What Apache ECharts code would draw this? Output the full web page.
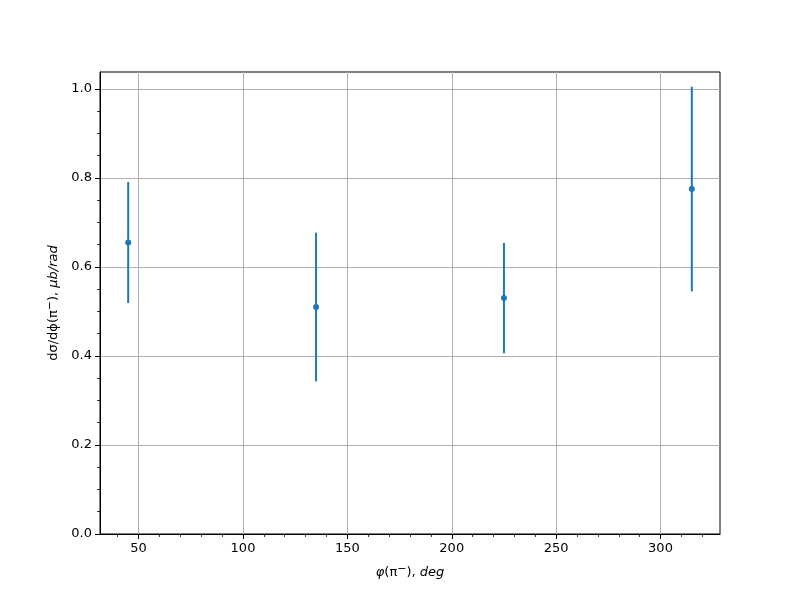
<!DOCTYPE html>
<html><head><meta charset="utf-8">
<script src="https://cdn.jsdelivr.net/npm/echarts@6/dist/echarts.min.js"></script>
<style>html,body{margin:0;padding:0;background:#fff}#c{width:800px;height:600px}</style>
</head><body><div id="c"></div>
<script>
const phi = [45, 135, 225, 315];
const sigma = [0.655, 0.510, 0.530, 0.775];
const sigmaErr = [0.136, 0.167, 0.124, 0.230];
const xTicks = [50, 100, 150, 200, 250, 300];
const xMinorTicks = [40, 60, 70, 80, 90, 110, 120, 130, 140, 160, 170, 180, 190, 210, 220, 230, 240, 260, 270, 280, 290, 310, 320];
const yTicks = [0, 0.2, 0.4, 0.6, 0.8, 1.0];
const yMinorTicks = [0.05, 0.1, 0.15, 0.25, 0.3, 0.35, 0.45, 0.5, 0.55, 0.65, 0.7, 0.75, 0.85, 0.9, 0.95];

const FONT = 'DejaVu Sans';
const C = '#1f77b4';
const chart = echarts.init(document.getElementById('c'));
const errData = phi.map((x, i) => [x, sigma[i] - sigmaErr[i], sigma[i] + sigmaErr[i]]);
const ptData = phi.map((x, i) => [x, sigma[i]]);
const rich = {i: {fontStyle: 'italic', fontFamily: FONT, fontSize: 13, color: '#000'}, s: {fontSize: 11, verticalAlign: 'top', padding: [0, 0, 7, 0], fontFamily: FONT, color: '#000'}};

chart.setOption({
  animation: false,
  backgroundColor: '#fff',
  grid: {left: 100, right: 80, top: 72, bottom: 66, show: true, borderColor: '#000', borderWidth: 1, backgroundColor: 'transparent'},
  xAxis: [{
    type: 'value', min: 31.5, max: 328.5, interval: 50,
    axisLine: {show: true, lineStyle: {color: '#000', width: 1}},
    axisTick: {show: true, inside: false, length: 5, customValues: xTicks, lineStyle: {color: '#000', width: 1}},
    axisLabel: {customValues: xTicks, color: '#000', fontFamily: FONT, fontSize: 13, margin: 8},
    splitLine: {show: true, lineStyle: {color: '#b0b0b0', width: 1}},
    name: '{i|φ}(π{s|−}), {i|deg}', nameLocation: 'middle', nameGap: 30,
    nameTextStyle: {color: '#000', fontFamily: FONT, fontSize: 13, rich: rich}
  }, {
    type: 'value', min: 31.5, max: 328.5, position: 'bottom', gridIndex: 0,
    axisLine: {show: false},
    axisTick: {show: true, inside: false, length: 3, customValues: xMinorTicks, lineStyle: {color: '#000', width: 0.8}},
    axisLabel: {show: false}, splitLine: {show: false}
  }],
  yAxis: [{
    type: 'value', min: 0, max: 1.038, interval: 0.2,
    axisLine: {show: true, lineStyle: {color: '#000', width: 1}},
    axisTick: {show: true, inside: false, length: 5, customValues: yTicks, lineStyle: {color: '#000', width: 1}},
    axisLabel: {customValues: yTicks, color: '#000', fontFamily: FONT, fontSize: 13, margin: 8, formatter: v => v.toFixed(1)},
    splitLine: {show: true, lineStyle: {color: '#b0b0b0', width: 1}},
    name: 'dσ/dϕ(π{s|−}), {i|μb/rad}', nameLocation: 'middle', nameGap: 37, nameRotate: 90,
    nameTextStyle: {color: '#000', fontFamily: FONT, fontSize: 13, rich: rich}
  }, {
    type: 'value', min: 0, max: 1.038, position: 'left', gridIndex: 0,
    axisLine: {show: false},
    axisTick: {show: true, inside: false, length: 3, customValues: yMinorTicks, lineStyle: {color: '#000', width: 0.8}},
    axisLabel: {show: false}, splitLine: {show: false}
  }],
  series: [{
    type: 'custom', xAxisIndex: 0, yAxisIndex: 0, data: errData, z: 3,
    renderItem: (params, api) => {
      const lo = api.coord([api.value(0), api.value(1)]);
      const hi = api.coord([api.value(0), api.value(2)]);
      return {type: 'line', shape: {x1: lo[0], y1: lo[1], x2: hi[0], y2: hi[1]}, style: {stroke: C, lineWidth: 2}};
    }
  }, {
    type: 'scatter', xAxisIndex: 0, yAxisIndex: 0, data: ptData, symbol: 'circle', symbolSize: 6, z: 4,
    itemStyle: {color: C, opacity: 1}
  }]
});
</script></body></html>
